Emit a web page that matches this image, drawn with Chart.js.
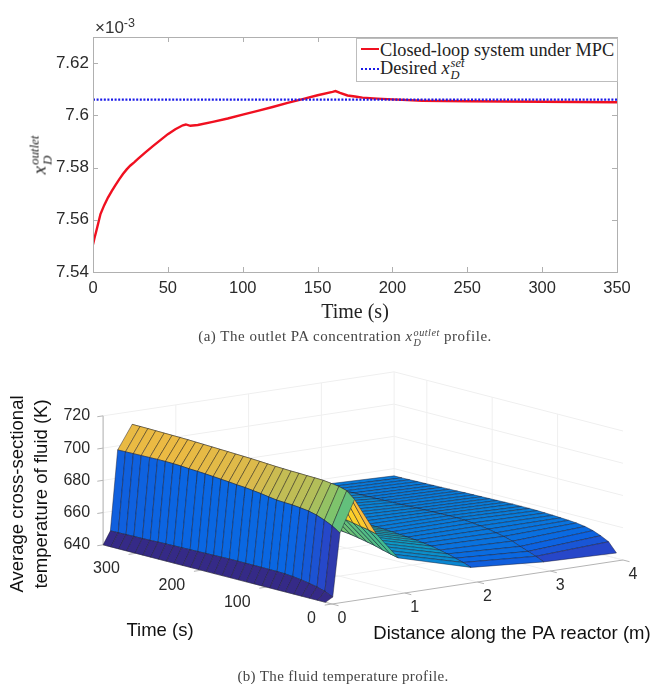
<!DOCTYPE html>
<html>
<head>
<meta charset="utf-8">
<script src="https://cdn.jsdelivr.net/npm/chart.js@4"></script>
<style>
html,body{margin:0;padding:0;background:#fff;}
#page{position:relative;width:654px;height:684px;overflow:hidden;background:#fff;filter:blur(0.4px);}
canvas{position:absolute;left:0;}
.t{position:absolute;white-space:nowrap;}
.serif{font-family:"Liberation Serif",serif;}
.sans{font-family:"Liberation Sans",sans-serif;}
.stack{display:inline-flex;flex-direction:column;vertical-align:middle;line-height:0.95;font-style:italic;font-size:0.68em;margin-left:1px;}
#legend{position:absolute;left:356px;top:38px;width:260px;height:42px;background:#fff;border:1px solid #bdbdbd;z-index:3;}
.swatch{position:absolute;left:4px;width:18px;}
.ltext{position:absolute;left:23px;font-size:18.3px;color:#222;line-height:20px;white-space:nowrap;}
</style>
</head>
<body>
<div id="page">
  <canvas id="lineChart" style="top:0;width:654px;height:325px"></canvas>
  <canvas id="surfaceChart" style="top:340px;width:654px;height:344px"></canvas>

  <div class="t sans" style="left:95px;top:18px;font-size:17px;color:#333">×10<sup style="font-size:12.5px;vertical-align:6px;line-height:0">-3</sup></div>
  <div class="t serif" style="left:41px;top:155px;font-size:19px;color:#222;transform:translate(-50%,-50%) rotate(-90deg)"><i>x</i><span class="stack"><span>outlet</span><span>D</span></span></div>

  <div id="legend" class="serif">
    <div class="swatch" style="top:9px;border-top:2.4px solid #f01020"></div>
    <div class="ltext" style="top:1px">Closed-loop system under MPC</div>
    <div class="swatch" style="top:29px;border-top:2.4px dotted #1a1ae8"></div>
    <div class="ltext" style="top:19px">Desired <i>x</i><span class="stack"><span>set</span><span>D</span></span></div>
  </div>

  <div class="t serif" style="left:345px;top:338px;transform:translate(-50%,-50%);font-size:15px;letter-spacing:0.5px;color:#444">(a) The outlet PA concentration <i>x</i><span class="stack"><span>outlet</span><span>D</span></span> profile.</div>
  <div class="t serif" style="left:343px;top:676px;transform:translate(-50%,-50%);font-size:15px;letter-spacing:0.35px;color:#444">(b) The fluid temperature profile.</div>
</div>
<script>
/* ---------- panel (a): values ---------- */
const timeSeconds = [0,1,2,3,5,7.5,10,12.5,15,17.5,20,22.5,25,27.5,30,35,40,45,50,55,60,62,65,70,80,90,100,110,120,130,140,150,160,162,165,170,175,180,190,200,220,250,300,350];
const outletClosedLoop = [7.5505,7.5530,7.5552,7.5575,7.5622,7.5656,7.5685,7.571,7.5733,7.5755,7.5775,7.5793,7.5808,7.582,7.5833,7.5858,7.5882,7.5905,7.5928,7.5947,7.5962,7.5965,7.596,7.5963,7.5975,7.5988,7.6003,7.6017,7.6032,7.6048,7.6062,7.6077,7.609,7.6093,7.6086,7.6076,7.6072,7.6068,7.6064,7.6061,7.6056,7.6054,7.6052,7.605];
const desiredSetpoint = [7.606,7.606];
const setpointTimes = [0,350];
const xTickValues = [0,50,100,150,200,250,300,350];
const yTickValues = [7.54,7.56,7.58,7.6,7.62];

/* ---------- panel (b): mesh ---------- */
const meshTimes = [10,22,34,46,58,71,83,95,107,119,131,143,155,168,180,192,204,216,228,241,253,265,277,289,301,314,326,338,350];
const meshDistances = [0,0.1,0.2,0.4,0.7,1,2,3,4];
const tempAt0m  = [640,640,640,640,640,640,640,640,640,640,640,640,640,640,640,640,640,640,640,640,640,640,640,640,640,640,640,640,640];
const tempAt01m = [642.6,644.8,646.3,647.3,648.2,648.9,649.3,649.5,649.5,649.6,649.6,649.6,649.6,649.6,649.5,649.4,649.3,649.2,649.1,649,648.9,648.8,648.7,648.5,648.4,648.3,648.2,648.1,648];
const tempAt02m = [681.6,684.8,687.1,689,690.2,690.9,691.4,691.6,691.9,692.6,693.4,694,694.6,695,695.5,695.9,696.3,696.7,697,697.3,697.7,697.9,698,698,697.9,697.8,697.7,697.6,697.5];
const tempAt04m = [701,705.2,706.6,707.3,707.9,708.1,708.2,708.4,708.5,708.7,708.9,709.2,709.5,709.8,710,710.2,710.4,710.6,710.8,711,711.2,711.4,711.5,711.6,711.7,711.8,711.9,711.95,712];
const tempAt07m = [677.6,678.9,679.8,680.8,681.7,682.8,683.7,684.6,685.5,686.4,687.1,687.7,688.2,688.7,689.2,689.7,690.2,690.7,691.1,691.5,691.8,692.1,692.4,692.7,693,693.3,693.6,693.8,694];
const tempAt1m  = [660.7,661.9,663.2,664.6,665.7,666.8,667.7,668.3,668.8,669.3,669.7,670.2,670.7,671.2,671.7,672,672.4,672.7,673,673.4,673.7,674,674.2,674.4,674.6,674.7,674.8,674.9,675];
const tempAt2m  = [648,649.8,651.2,652.6,653.7,654.8,655.5,656.1,656.6,657,657.4,657.7,658,658.2,658.5,658.8,659.1,659.3,659.5,659.8,660,660.2,660.4,660.5,660.6,660.7,660.8,660.9,661];
const tempAt3m  = [644.6,646.8,648.6,650.4,652.4,654,655,656,656.8,657.3,657.8,658,658,657.9,657.8,657.7,657.6,657.5,657.4,657.3,657.2,657.1,657,656.9,656.9,656.8,656.8,656.8,656.8];
const tempAt4m  = [643.3,649,651.5,653.4,654.7,655.5,655.9,656.2,656.5,656.7,656.9,657,657,657,656.9,656.8,656.7,656.6,656.5,656.4,656.2,656.1,656,655.9,655.8,655.7,655.6,655.5,655.5];
const tempColumns = [tempAt0m,tempAt01m,tempAt02m,tempAt04m,tempAt07m,tempAt1m,tempAt2m,tempAt3m,tempAt4m];
const zTicks = [640,660,680,700,720];
const timeTicks = [0,100,200,300];
const distanceTicks = [0,1,2,3,4];

/* ---------- panel (a) chart ---------- */
const SANS = '"Liberation Sans", sans-serif';
const SERIF = '"Liberation Serif", serif';
const axisGray = '#b0b0b0';
const boxPlugin = {
  id:'box',
  afterDraw(c){
    const {ctx,chartArea:a,scales:{x,y}} = c;
    ctx.save();
    ctx.strokeStyle = axisGray; ctx.lineWidth = 1;
    ctx.strokeRect(a.left+.5,a.top+.5,a.right-a.left,a.bottom-a.top);
    ctx.beginPath();
    xTickValues.forEach(v=>{const p=Math.round(x.getPixelForValue(v))+.5;
      ctx.moveTo(p,a.bottom);ctx.lineTo(p,a.bottom-5);ctx.moveTo(p,a.top);ctx.lineTo(p,a.top+5);});
    yTickValues.forEach(v=>{const p=Math.round(y.getPixelForValue(v))+.5;
      ctx.moveTo(a.left,p);ctx.lineTo(a.left+5,p);ctx.moveTo(a.right,p);ctx.lineTo(a.right-5,p);});
    ctx.stroke();
    ctx.restore();
  }
};
new Chart(document.getElementById('lineChart'),{
  type:'scatter',
  data:{datasets:[
    {label:'Closed-loop system under MPC',data:timeSeconds.map((t,i)=>({x:t,y:outletClosedLoop[i]})),showLine:true,pointRadius:0,borderColor:'#f01020',borderWidth:2.4,tension:0,order:2},
    {label:'Desired',data:setpointTimes.map((t,i)=>({x:t,y:desiredSetpoint[i]})),showLine:true,pointRadius:0,borderColor:'#1a1ae8',borderWidth:2.4,borderDash:[2,1.6],tension:0,order:1}
  ]},
  plugins:[boxPlugin],
  options:{
    responsive:false,animation:false,devicePixelRatio:1,
    layout:{padding:{left:0,top:37,right:37,bottom:0}},
    plugins:{legend:{display:false},tooltip:{enabled:false}},
    scales:{
      x:{type:'linear',min:0,max:350,
        afterBuildTicks:s=>{s.ticks=xTickValues.map(v=>({value:v}));},
        afterFit:s=>{s.height=53;},
        grid:{drawOnChartArea:false,drawTicks:false},border:{color:axisGray},
        ticks:{font:{family:SANS,size:16.5},color:'#2a2a2a',padding:7,maxRotation:0,autoSkip:false},
        title:{display:true,text:'Time (s)',font:{family:SERIF,size:20},color:'#222',padding:{top:-3,bottom:0}}},
      y:{type:'linear',min:7.54,max:7.63,
        afterBuildTicks:s=>{s.ticks=yTickValues.map(v=>({value:v}));},
        afterFit:s=>{s.width=93;},
        grid:{drawOnChartArea:false,drawTicks:false},border:{color:axisGray},
        ticks:{font:{family:SANS,size:17},color:'#2a2a2a',padding:4,autoSkip:false,callback:v=>String(+(+v).toFixed(2))}}
    }
  }
});

/* ---------- panel (b) chart: orthographic view of the mesh through linear scales ---------- */
const view = {x0:332,y0:604,dx:72.75,dy:-11,tx:-0.654,ty:-0.169,zy:-1.6125,zBase:640};
const project = (d,t,T)=>({x:view.x0+view.dx*d+view.tx*t, y:view.y0+view.dy*d+view.ty*t+view.zy*(T-view.zBase)});
const parulaStops = [[0,.208,.166,.529],[.06,.16,.27,.78],[.125,.04,.40,.89],[.25,.03,.49,.85],[.375,.06,.62,.76],[.5,.2,.72,.6],[.625,.5,.77,.42],[.75,.85,.73,.3],[.85,.98,.73,.23],[1,.99,.9,.1]];
function parula(T){
  const f=Math.min(1,Math.max(0,(T-640)/72));
  let k=0; while(k<parulaStops.length-2&&f>parulaStops[k+1][0])k++;
  const a=parulaStops[k],b=parulaStops[k+1],u=(f-a[0])/(b[0]-a[0]);
  return 'rgb('+[1,2,3].map(i=>Math.round(255*(a[i]+(b[i]-a[i])*u))).join(',')+')';
}
const surfaceSets = [];
for(let j=0;j<meshDistances.length-1;j++){
  for(let i=0;i<meshTimes.length-1;i++){
    const corners=[
      project(meshDistances[j],meshTimes[i],tempColumns[j][i]),
      project(meshDistances[j+1],meshTimes[i],tempColumns[j+1][i]),
      project(meshDistances[j+1],meshTimes[i+1],tempColumns[j+1][i+1]),
      project(meshDistances[j],meshTimes[i+1],tempColumns[j][i+1])];
    surfaceSets.push({data:[...corners,corners[0]],showLine:true,pointRadius:0,tension:0,
      borderColor:'rgba(25,25,45,0.5)',borderWidth:0.9,backgroundColor:parula(tempColumns[j][i]),fill:'shape'});
  }
}
const lineSet=(pts,color,w)=>({data:pts,showLine:true,pointRadius:0,tension:0,borderColor:color,borderWidth:w,fill:false});
const gridColor='#efefef', boxColor='#b4b4b4';
const tMax=350,dMax=4,zMax=720,zMin=640;
const gridSets=[];
zTicks.forEach(z=>gridSets.push(lineSet([project(0,tMax,z),project(dMax,tMax,z),project(dMax,0,z)],gridColor,1)));
distanceTicks.forEach(d=>{gridSets.push(lineSet([project(d,0,zMin),project(d,tMax,zMin),project(d,tMax,zMax)],gridColor,1));});
timeTicks.filter(t=>t>0).forEach(t=>{gridSets.push(lineSet([project(0,t,zMin),project(dMax,t,zMin),project(dMax,t,zMax)],gridColor,1));});
const axisSets=[
  lineSet([project(0,tMax,zMin),project(0,tMax,zMax)],boxColor,1),
  lineSet([project(0,tMax,zMin),project(0,0,zMin)],boxColor,1),
  lineSet([project(0,0,zMin),project(dMax,0,zMin)],boxColor,1)
];
zTicks.forEach(z=>axisSets.push(lineSet([project(0,tMax,z),project(-0.08,tMax,z)],boxColor,1)));
timeTicks.forEach(t=>axisSets.push(lineSet([project(0,t,zMin),project(-0.1,t,zMin)],boxColor,1)));
distanceTicks.forEach(d=>axisSets.push(lineSet([project(d,0,zMin),project(d,-10,zMin)],boxColor,1)));

const labelPlugin={
  id:'labels3d',
  afterDraw(c){
    const {ctx,scales:{x,y}}=c;
    const P=(d,t,z)=>{const p=project(d,t,z);return {x:x.getPixelForValue(p.x),y:y.getPixelForValue(p.y)};};
    ctx.save();
    ctx.fillStyle='#2a2a2a';ctx.font='16px '+SANS;ctx.textBaseline='middle';
    ctx.textAlign='right';
    zTicks.forEach(z=>{const p=P(0,tMax,z);ctx.fillText(String(z),p.x-13,p.y);});
    timeTicks.forEach(t=>{const p=P(0,t,zMin);ctx.fillText(String(t),p.x-16,p.y+15);});
    ctx.textAlign='center';
    distanceTicks.forEach(d=>{const p=P(d,0,zMin);ctx.fillText(String(d),p.x+10,p.y+15);});
    ctx.fillStyle='#111';ctx.font='18.5px '+SANS;
    ctx.fillText('Time (s)',x.getPixelForValue(160),y.getPixelForValue(631));
    ctx.fillText('Distance along the PA reactor (m)',x.getPixelForValue(512),y.getPixelForValue(634));
    ctx.translate(x.getPixelForValue(18),y.getPixelForValue(494));ctx.rotate(-Math.PI/2);
    ctx.fillText('Average cross-sectional',0,0);
    ctx.fillText('temperature of fluid (K)',0,24);
    ctx.restore();
  }
};
new Chart(document.getElementById('surfaceChart'),{
  type:'scatter',
  data:{datasets:[...surfaceSets,...axisSets,...gridSets]},
  plugins:[labelPlugin],
  options:{
    responsive:false,animation:false,devicePixelRatio:1,
    layout:{padding:0},
    plugins:{legend:{display:false},tooltip:{enabled:false}},
    scales:{
      x:{type:'linear',min:0,max:654,display:false},
      y:{type:'linear',min:340,max:684,reverse:true,display:false}
    }
  }
});
</script>
</body>
</html>
